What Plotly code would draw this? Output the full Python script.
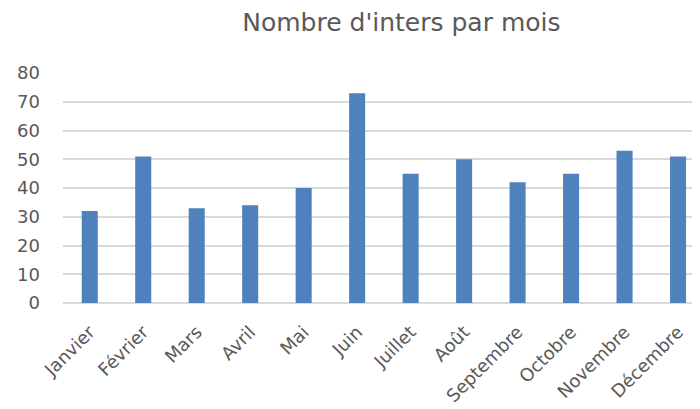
import plotly.graph_objects as go

mois = ["Janvier", "Février", "Mars", "Avril", "Mai", "Juin", "Juillet",
        "Août", "Septembre", "Octobre", "Novembre", "Décembre"]
inters = [32, 51, 33, 34, 40, 73, 45, 50, 42, 45, 53, 51]
y_ticks = [0, 10, 20, 30, 40, 50, 60, 70, 80]

FONT = "DejaVu Sans"
GREY = "#595959"

fig = go.Figure(go.Bar(x=list(range(len(mois))), y=inters,
                       marker=dict(color="#4F81BD", line=dict(width=0)),
                       width=0.3))

fig.update_layout(
    width=700, height=409,
    margin=dict(l=55, r=0, t=65, b=114),
    paper_bgcolor="white", plot_bgcolor="white",
    title=dict(text="Nombre d'inters par mois", x=0.562, xanchor="center",
               y=0.964, yanchor="middle",
               font=dict(family=FONT, size=25, color=GREY)),
    font=dict(family=FONT, color=GREY),
    showlegend=False,
)
fig.update_xaxes(range=[-0.5, 11.56], tickmode="array",
                 tickvals=list(range(len(mois))), ticktext=mois,
                 tickangle=-45, showgrid=False, zeroline=False,
                 showline=False, ticks="", ticklabelstandoff=14,
                 tickfont=dict(family=FONT, size=18, color=GREY))
fig.update_yaxes(range=[0, 80], tickmode="array", tickvals=y_ticks,
                 showgrid=True, gridcolor="#D9D9D9", gridwidth=1.5,
                 zeroline=True, zerolinecolor="#D9D9D9", zerolinewidth=1.5,
                 showline=False, ticks="", ticklabelstandoff=22,
                 tickfont=dict(family=FONT, size=18, color=GREY))

fig.write_html("out.html")
